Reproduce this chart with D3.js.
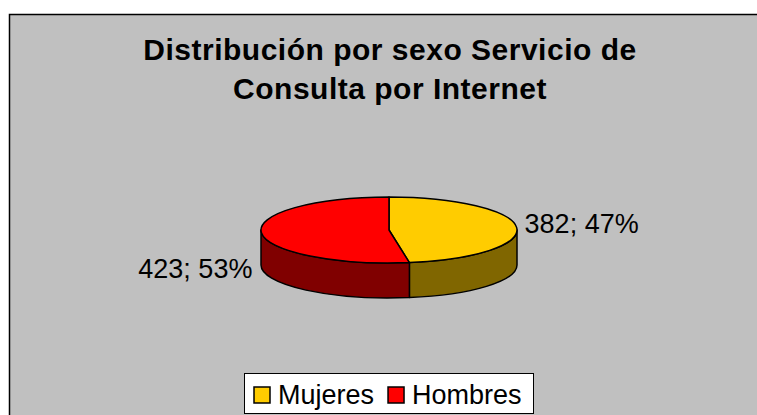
<!DOCTYPE html>
<html>
<head>
<meta charset="utf-8">
<script src="https://cdn.jsdelivr.net/npm/d3@7"></script>
<style>
  html, body { margin: 0; padding: 0; background: #fff; }
  svg { display: block; font-family: "Liberation Sans", Arial, sans-serif; }
</style>
</head>
<body>
<div id="chart"></div>
<script>
// data
var categories = ["Mujeres", "Hombres"];
var values = [382, 423];
var percents = ["47%", "53%"];
var titleLines = ["Distribución por sexo Servicio de", "Consulta por Internet"];

var topColors = ["#FFCC00", "#FF0000"];
var sideColors = ["#806600", "#800000"];

var width = 757, height = 415;

var svg = d3.select("#chart")
  .append("svg")
  .attr("width", width)
  .attr("height", height);

// chart area (runs off the right and bottom of the window)
svg.append("rect")
  .attr("x", 9.5)
  .attr("y", 14.5)
  .attr("width", 800)
  .attr("height", 500)
  .style("fill", "#c0c0c0")
  .style("stroke", "#000")
  .style("stroke-width", 1.5);

// title
svg.append("text")
  .attr("text-anchor", "middle")
  .style("font-weight", "bold")
  .style("font-size", "30px")
  .style("letter-spacing", "0.5px")
  .selectAll("tspan")
  .data(titleLines)
  .enter().append("tspan")
  .attr("x", 390)
  .attr("y", function (d, i) { return 60 + i * 39; })
  .text(function (d) { return d; });

// 3d pie
var cx = 389, cy = 230, rx = 128, ry = 33, depth = 35;

var pie = d3.pie().sort(null).value(function (d) { return d; });
var arcs = pie(values);

function px(a) { return cx + rx * Math.sin(a); }
function py(a) { return cy - ry * Math.cos(a); }

// sides (only the front half, from pi/2 to 3pi/2)
var sides = svg.append("g");
arcs.forEach(function (d, i) {
  var a0 = Math.max(d.startAngle, Math.PI / 2);
  var a1 = Math.min(d.endAngle, 3 * Math.PI / 2);
  if (a1 <= a0) return;
  var p = "M" + px(a0) + "," + py(a0) +
    " A" + rx + "," + ry + " 0 0 1 " + px(a1) + "," + py(a1) +
    " L" + px(a1) + "," + (py(a1) + depth) +
    " A" + rx + "," + ry + " 0 0 0 " + px(a0) + "," + (py(a0) + depth) + " Z";
  sides.append("path")
    .attr("d", p)
    .style("fill", sideColors[i])
    .style("stroke", "#000")
    .style("stroke-width", 1.5)
    .style("stroke-linejoin", "round");
});

// top face
svg.append("g")
  .selectAll("path")
  .data(arcs)
  .enter().append("path")
  .attr("d", function (d) {
    var large = (d.endAngle - d.startAngle) > Math.PI ? 1 : 0;
    return "M" + cx + "," + cy +
      " L" + px(d.startAngle) + "," + py(d.startAngle) +
      " A" + rx + "," + ry + " 0 " + large + " 1 " + px(d.endAngle) + "," + py(d.endAngle) + " Z";
  })
  .style("fill", function (d, i) { return topColors[i]; })
  .style("stroke", "#000")
  .style("stroke-width", 1.5)
  .style("stroke-linejoin", "round");

// data labels
var labelShift = { "Mujeres": { dx: 8, dy: 6 }, "Hombres": { dx: -9, dy: 45 } };
svg.append("g")
  .selectAll("text")
  .data(arcs)
  .enter().append("text")
  .attr("x", function (d, i) {
    var m = (d.startAngle + d.endAngle) / 2;
    return px(m) + labelShift[categories[i]].dx;
  })
  .attr("y", function (d, i) {
    var m = (d.startAngle + d.endAngle) / 2;
    return py(m) + labelShift[categories[i]].dy;
  })
  .attr("text-anchor", function (d) {
    var m = (d.startAngle + d.endAngle) / 2;
    return m < Math.PI ? "start" : "end";
  })
  .style("font-size", "27px")
  .style("fill", "#000")
  .text(function (d, i) { return values[i] + "; " + percents[i]; });

// legend
var legend = svg.append("g");
legend.append("rect")
  .attr("x", 244.5)
  .attr("y", 373.5)
  .attr("width", 289)
  .attr("height", 40)
  .style("fill", "#fff")
  .style("stroke", "#000")
  .style("stroke-width", 1);

var lx = 254;
categories.forEach(function (c, i) {
  legend.append("rect")
    .attr("x", lx)
    .attr("y", 387)
    .attr("width", 16)
    .attr("height", 16)
    .style("fill", topColors[i])
    .style("stroke", "#000")
    .style("stroke-width", 1.5);
  var t = legend.append("text")
    .attr("x", lx + 24)
    .attr("y", 404)
    .style("font-size", "27px")
    .text(c);
  lx += 24 + t.node().getComputedTextLength() + 14;
});
</script>
</body>
</html>
